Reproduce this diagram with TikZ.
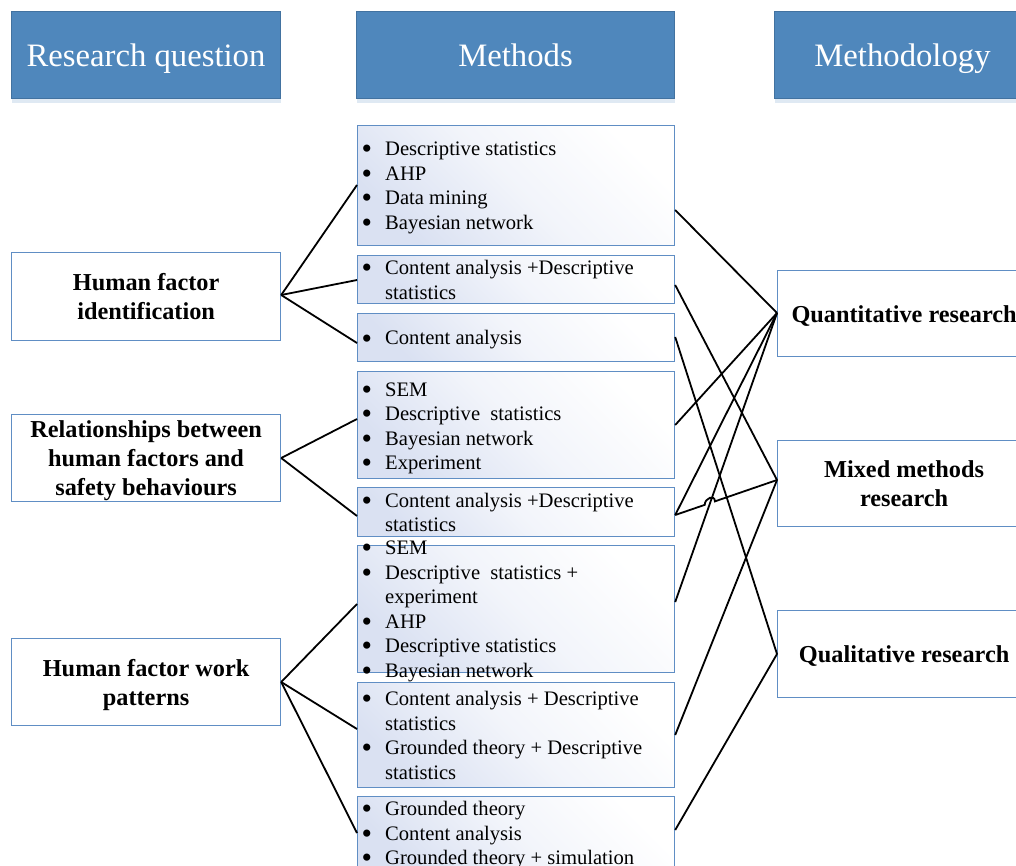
\documentclass[tikz,border=0pt]{standalone}
\usepackage{fontspec}
\setmainfont{Liberation Serif}
\usetikzlibrary{calc,shadows}

\definecolor{hdrfill}{RGB}{79,135,188}
\definecolor{hdredge}{RGB}{66,114,160}
\definecolor{boxedge}{RGB}{96,142,196}
\definecolor{shadefrom}{RGB}{218,225,242}

% bullet followed by the item text; \cont indents a wrapped line
\newcommand{\bul}{\makebox[24pt][l]{\hspace{0.5pt}\raisebox{-0.16em}{\scalebox{1.45}{\textbullet}}}}
\newcommand{\cont}{\hspace*{24pt}}

\tikzset{
  header/.style={draw=hdredge, line width=1pt, fill=hdrfill, text=white,
    minimum height=87pt, inner sep=0pt, anchor=north west, text depth=0pt,
    font=\fontsize{32.7}{39}\selectfont,
    drop shadow={shadow xshift=0pt, shadow yshift=-4pt, opacity=0.18, fill=hdrfill}},
  qbox/.style={draw=boxedge, line width=1.2pt, fill=white, minimum width=269pt,
    inner sep=0pt, anchor=north west, align=center, text depth=0pt,
    font=\fontsize{24.3}{29}\selectfont\bfseries},
  mbox/.style={draw=boxedge, line width=1.2pt, top color=shadefrom, bottom color=white,
    middle color=shadefrom!35!white, shading angle=135,
    minimum width=317pt, inner sep=0pt, anchor=north west},
  mlist/.style={anchor=west, inner sep=0pt, align=left, text depth=0pt,
    font=\fontsize{20.6}{24.5}\selectfont},
  rbox/.style={draw=boxedge, line width=1.2pt, fill=white, minimum width=253pt,
    inner sep=0pt, anchor=north west, align=center, text depth=0pt,
    font=\fontsize{24.3}{29}\selectfont\bfseries},
  link/.style={line width=1.8pt, black}
}

\begin{document}
\begin{tikzpicture}[x=1pt, y=-1pt]
\useasboundingbox (0,0) rectangle (1016,865);
\clip (0,0) rectangle (1016,865);

% column headers
\node[header, minimum width=269pt] (hq) at (11,11) {Research question};
\node[header, minimum width=318pt] (hm) at (356,11) {Methods};
\node[header, minimum width=256pt] (hy) at (774,11) {Methodology};

% research questions
\node[qbox, minimum height=88pt] (q1) at (11,252) {Human factor\\identification};
\node[qbox, minimum height=87pt] (q2) at (11,414) {Relationships between\\human factors and\\safety behaviours};
\node[qbox, minimum height=87pt] (q3) at (11,638) {Human factor work\\patterns};

% method boxes
\node[mbox, minimum height=120pt] (m1) at (357,125) {};
\node[mbox, minimum height=48pt]  (m2) at (357,255) {};
\node[mbox, minimum height=48pt]  (m3) at (357,313) {};
\node[mbox, minimum height=107pt] (m4) at (357,371) {};
\node[mbox, minimum height=49pt]  (m5) at (357,487) {};
\node[mbox, minimum height=127pt] (m6) at (357,545) {};
\node[mbox, minimum height=105pt] (m7) at (357,682) {};
\node[mbox, minimum height=74pt]  (m8) at (357,796) {};

\node[mlist] (m1t) at ($(m1.west)+(4,0)$) {\bul Descriptive statistics\\\bul AHP\\\bul Data mining\\\bul Bayesian network};
\node[mlist] (m2t) at ($(m2.west)+(4,0)$) {\bul Content analysis +Descriptive\\\cont statistics};
\node[mlist] (m3t) at ($(m3.west)+(4,0)$) {\bul Content analysis};
\node[mlist] (m4t) at ($(m4.west)+(4,1)$) {\bul SEM\\\bul Descriptive\ \ statistics\\\bul Bayesian network\\\bul Experiment};
\node[mlist] (m5t) at ($(m5.west)+(4,0)$) {\bul Content analysis +Descriptive\\\cont statistics};
\node[mlist] (m6t) at ($(m6.west)+(4,0)$) {\bul SEM\\\bul Descriptive\ \ statistics +\\\cont experiment\\\bul AHP\\\bul Descriptive statistics\\\bul Bayesian network};
\node[mlist] (m7t) at ($(m7.west)+(4,0)$) {\bul Content analysis + Descriptive\\\cont statistics\\\bul Grounded theory + Descriptive\\\cont statistics};
\node[mlist, anchor=north west] (m8t) at ($(m8.north west)+(4,5)$) {\bul Grounded theory\\\bul Content analysis\\\bul Grounded theory + simulation};

% methodologies
\node[rbox, minimum height=86pt] (r1) at (777,270) {Quantitative research};
\node[rbox, minimum height=86pt] (r2) at (777,440) {Mixed methods\\research};
\node[rbox, minimum height=87pt] (r3) at (777,610) {Qualitative research};

% research question -> methods
\draw[link] (q1.east |- 0,295) -- (m1.west |- 0,185);
\draw[link] (q1.east |- 0,295) -- (m2.west |- 0,280);
\draw[link] (q1.east |- 0,295) -- (m3.west |- 0,343);
\draw[link] (q2.east |- 0,458) -- (m4.west |- 0,419);
\draw[link] (q2.east |- 0,458) -- (m5.west |- 0,516);
\draw[link] (q3.east |- 0,682) -- (m6.west |- 0,604);
\draw[link] (q3.east |- 0,682) -- (m7.west |- 0,729);
\draw[link] (q3.east |- 0,682) -- (m8.west |- 0,833);

% methods -> methodologies
\draw[link] (m1.east |- 0,210) -- (r1.west |- 0,313);
\draw[link] (m2.east |- 0,285) -- (r2.west |- 0,480);
\draw[link] (m3.east |- 0,337) -- (r3.west |- 0,654);
\draw[link] (m4.east |- 0,425) -- (r1.west |- 0,313);
\draw[link] (m5.east |- 0,515) -- (r1.west |- 0,313);
\draw[link] (m6.east |- 0,602) -- (r1.west |- 0,313);
\draw[link] (m7.east |- 0,735) -- (r2.west |- 0,480);
\draw[link] (m8.east |- 0,830) -- (r3.west |- 0,654);

% m5 -> r2 hops over the m6 -> r1 line
\path (m5.east |- 0,515) coordinate (m5e) (r2.west |- 0,480) coordinate (r2w);
\path (m5e) -- (r2w) coordinate[pos=0.29] (hopa) coordinate[pos=0.39] (hopb);
\draw[link] (m5e) -- (hopa) .. controls ($(hopa)+(0,-7)$) and ($(hopb)+(0,-7)$) .. (hopb) -- (r2w);
\end{tikzpicture}
\end{document}
